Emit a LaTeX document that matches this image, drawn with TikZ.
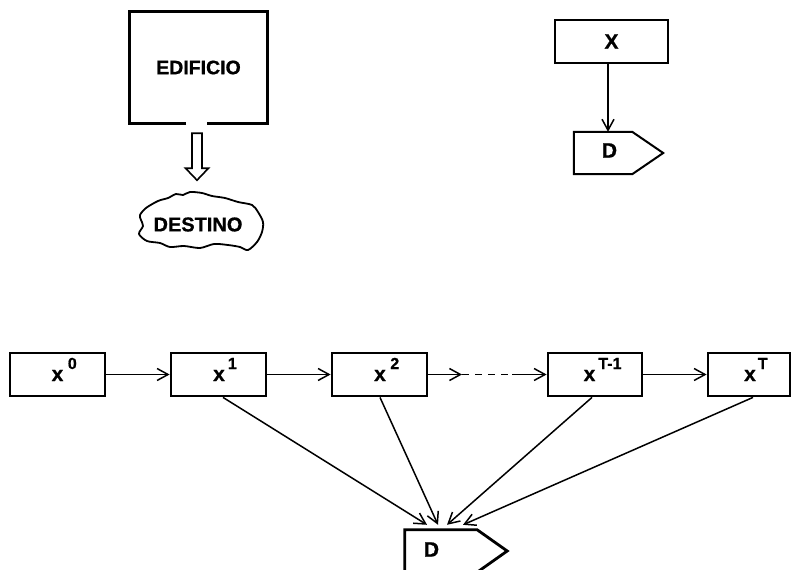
\documentclass[tikz,border=0pt]{standalone}
\usepackage{fontspec}
\setmainfont{Liberation Sans}[BoldFeatures={FakeBold=0.8}]
\usetikzlibrary{arrows.meta,calc}
\begin{document}
\begin{tikzpicture}[x=1pt,y=-1pt,
  box/.style={draw, line width=2.8pt, minimum width=95pt, minimum height=43pt, inner sep=0pt},
  arr/.style={line width=1.5pt, -{Straight Barb[length=11pt,width=12pt]}},
  lbl/.style={font=\bfseries\fontsize{21}{21}\selectfont, inner sep=0pt},
  body/.style={draw=none, inner sep=0pt, minimum height=42pt},
]
\useasboundingbox (0,0) rectangle (793,570);
\newcommand{\supr}[2]{x\rlap{\hspace{#1}\raisebox{12pt}{\fontsize{16}{16}\selectfont #2}}}

% --- top left: EDIFICIO ---
\node[inner sep=0pt, minimum width=137pt, minimum height=111pt,
      font=\bfseries\fontsize{19.5}{19.5}\selectfont] (edif) at (198.5,67.5) {EDIFICIO};
\draw[line width=3.2pt, line join=miter]
  ($(edif.south)+(-12.5,0)$) -- (edif.south west) -- (edif.north west)
  -- (edif.north east) -- (edif.south east) -- ($(edif.south)+(8.5,0)$);

\node[inner sep=0pt, font=\bfseries\fontsize{20}{20}\selectfont] (dest) at (198,224.5) {DESTINO};
\draw[line width=1.8pt] plot[smooth cycle, tension=0.5] coordinates {
  (140,215) (146,208) (158,201) (168,198) (176,194) (183,195) (190,192) (202,193) (212,196)
  (225,198) (238,202) (252,205) (258,212) (263,222) (262,232) (257,242) (248,250)
  (240,247) (228,245) (214,244) (200,248) (184,246) (170,247) (160,243) (147,241) (139,234) (143,226) (141,220)};

% hollow arrow edif -> dest
\coordinate (ha) at ($(edif.south)+(-1.5,10)$);
\draw[line width=1.6pt, line join=miter]
  ($(ha)+(-5,0)$) -- ($(ha)+(5,0)$) -- ($(ha)+(5,35)$) -- ($(ha)+(11.5,35)$)
  -- ($(ha)+(0,47)$) -- ($(ha)+(-11.5,35)$) -- ($(ha)+(-5,35)$) -- cycle;

% --- top right: X -> D ---
\node[draw, line width=2pt, minimum width=113pt, minimum height=43pt, inner sep=0pt,
      font=\bfseries\fontsize{21}{21}\selectfont] (X) at (611.5,41.5) {X};
\node[body, minimum width=58pt] (dtop) at (603,153) {};
\draw[line width=2pt, line join=miter] (dtop.north west) -- (dtop.north east)
  -- ($(dtop.east)+(31,0)$) -- (dtop.south east) -- (dtop.south west) -- cycle;
\node[lbl] (dtoplbl) at (609.5,150.5) {D};
\draw[arr] ([xshift=-3.5pt]X.south) -- ([xshift=5pt]dtop.north);

% --- bottom row ---
\node[box] (x0) at (57.5,374.5) {};
\node[box] (x1) at (218.5,374.5) {};
\node[box] (x2) at (379.5,374.5) {};
\node[box, minimum width=94pt] (xT1) at (595,374.5) {};
\node[box, minimum width=82pt] (xT) at (749,374.5) {};

\node[lbl, anchor=base] (l0) at (57.5,381) {\supr{4.5pt}{0}};
\node[lbl, anchor=base] (l1) at (219,381) {\supr{3pt}{1}};
\node[lbl, anchor=base] (l2) at (380,381) {\supr{4.5pt}{2}};
\node[lbl, anchor=base] (lT1) at (589.5,381) {\supr{3pt}{T-1}};
\node[lbl, anchor=base] (lT) at (750,381) {\supr{2pt}{T}};

\draw[arr] (x0) -- (x1);
\draw[arr] (x1) -- (x2);
\coordinate (da) at (462,374.5);
\coordinate (db) at (512,374.5);
\draw[arr] (x2) -- (da);
\draw[line width=1.5pt, dash pattern=on 7pt off 6pt] (da) -- (db);
\draw[arr] (db) -- (xT1);
\draw[arr] (xT1) -- (xT);

% bottom D
\node[body, minimum width=72pt] (dbot) at (441,551) {};
\draw[line width=2.8pt, line join=miter] (dbot.north west) -- (dbot.north east)
  -- ($(dbot.east)+(30,0)$) -- (dbot.south east) -- (dbot.south west) -- cycle;
\node[lbl] (dbotlbl) at (431.5,549.5) {D};

\draw[arr] ([xshift=4.5pt]x1.south) -- ($(dbot.north)+(-14,-5)$);
\draw[arr] ([xshift=0.5pt]x2.south) -- ($(dbot.north)+(-3,-5)$);
\draw[arr] ([xshift=-3pt]xT1.south) -- ($(dbot.north)+(6,-5)$);
\draw[arr] ([xshift=4pt]xT.south) -- ($(dbot.north)+(22,-5)$);
\end{tikzpicture}
\end{document}
